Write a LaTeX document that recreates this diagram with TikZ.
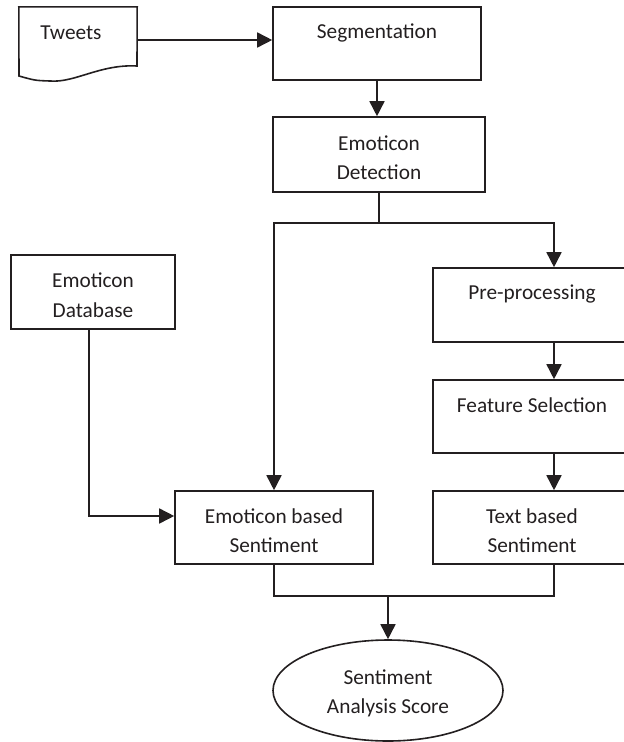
\documentclass[tikz,border=0pt]{standalone}
\usepackage{fontspec}
\setmainfont{Carlito}
\usetikzlibrary{arrows.meta,shapes.geometric}
\definecolor{ink}{HTML}{231F20}
\begin{document}
\begin{tikzpicture}[x=1pt,y=-1pt,
  every node/.style={font=\fontsize{21.3}{29.5}\selectfont, text=ink},
  boxst/.style={draw=ink, line width=1.6pt, rectangle, inner sep=0pt, align=center},
  conn/.style={draw=ink, line width=1.6pt},
  arr/.style={conn, -{Triangle[length=15pt,width=15pt]}}]
\clip (0,0) rectangle (624,742);
% Tweets document shape
\node[inner sep=0pt, minimum width=118pt, minimum height=66pt] (tweets) at (78,40) {};
\draw[ink, line width=1.6pt] (tweets.north west) -- (tweets.north east) -- (137,66)
  .. controls (100,64) and (75,83) .. (50,81) .. controls (35,80.5) .. (19,76) -- cycle;
\node (tweetslbl) at (71,33) {Tweets};
% boxes
\node[boxst, minimum width=208pt, minimum height=73pt] (seg) at (377,43.5) {};
\node (seglbl) at (377,33) {Segmentation};
\node[boxst, minimum width=212pt, minimum height=75pt] (det) at (379,154.5) {};
\node[align=center] (detlbl) at (379,157.5) {Emoticon\\Detection};
\node[boxst, minimum width=164pt, minimum height=74pt] (db) at (93,292) {};
\node[align=center] (dblbl) at (93,295) {Emoticon\\Database};
\node[boxst, minimum width=198pt, minimum height=74pt] (pre) at (532,305) {};
\node (prelbl) at (532,294) {Pre-processing};
\node[boxst, minimum width=198pt, minimum height=73pt] (feat) at (532,416.5) {};
\node (featlbl) at (532,405) {Feature Selection};
\node[boxst, minimum width=198pt, minimum height=73pt] (txt) at (532,527.5) {};
\node[align=center] (txtlbl) at (532,530.5) {Text based\\Sentiment};
\node[boxst, minimum width=198pt, minimum height=73pt] (emo) at (274,527.5) {};
\node[align=center] (emolbl) at (274,530.5) {Emoticon based\\Sentiment};
\node[draw=ink, line width=1.6pt, ellipse, inner sep=0pt, minimum width=230pt, minimum height=101pt] (score) at (388,690.5) {};
\node[align=center] (scorelbl) at (388,693.5) {Sentiment\\Analysis Score};
% helper coordinates
\coordinate (rx) at (554,0);
\coordinate (split) at (379,223);
\coordinate (join) at (388,596);
% connectors
\draw[arr] (tweets.east) -- (tweets.east -| seg.west);
\draw[arr] (seg.south) -- (seg.south |- det.north);
\draw[conn] (det.south) -- (split);
\draw[arr] (split) -| (emo.north);
\draw[arr] (split) -| (rx |- pre.north);
\draw[arr] (rx |- pre.south) -- (rx |- feat.north);
\draw[arr] (rx |- feat.south) -- (rx |- txt.north);
\draw[arr] ([xshift=-4pt]db.south) |- ([yshift=11.5pt]emo.west);
\draw[conn] (emo.south) |- (join) -| (rx |- txt.south);
\draw[arr] (join) -- (score.north);
\end{tikzpicture}
\end{document}
